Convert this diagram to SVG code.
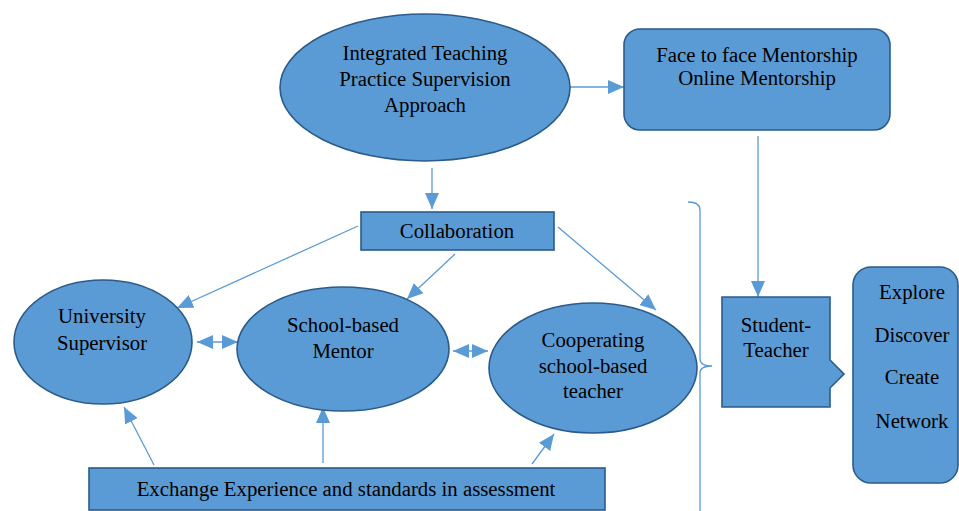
<svg xmlns="http://www.w3.org/2000/svg" width="959" height="511" viewBox="0 0 959 511">
<style>
.node{fill:#5B9BD5;stroke:#2B5B8A;stroke-width:1.6}
.t{font-family:"Liberation Serif","Times New Roman",serif;font-size:20.8px;fill:#000;text-anchor:middle}
.c{stroke:#5B9BD5;stroke-width:1.3;fill:none}
</style>
<defs>
<marker id="ah" markerUnits="userSpaceOnUse" markerWidth="16" markerHeight="16" viewBox="0 0 16 16" refX="16" refY="8" orient="auto-start-reverse">
<path d="M0,1 L16,8 L0,15 Z" fill="#5B9BD5"/>
</marker>
</defs>
<rect width="959" height="511" fill="#fff"/>
<g id="connectors">
<line class="c" x1="570" y1="87" x2="624" y2="87" marker-end="url(#ah)"/>
<line class="c" x1="758" y1="136" x2="758" y2="297" marker-end="url(#ah)"/>
<line class="c" x1="432" y1="168" x2="432" y2="209" marker-end="url(#ah)"/>
<line class="c" x1="358" y1="226" x2="177" y2="308" marker-end="url(#ah)"/>
<line class="c" x1="455" y1="254" x2="407" y2="299" marker-end="url(#ah)"/>
<line class="c" x1="558" y1="227" x2="656" y2="310" marker-end="url(#ah)"/>
<line class="c" x1="197" y1="342" x2="238" y2="342" marker-start="url(#ah)" marker-end="url(#ah)"/>
<line class="c" x1="453" y1="351" x2="488" y2="351" marker-start="url(#ah)" marker-end="url(#ah)"/>
<line class="c" x1="154" y1="465" x2="124" y2="407" marker-end="url(#ah)"/>
<line class="c" x1="323" y1="463" x2="323" y2="407" marker-end="url(#ah)"/>
<line class="c" x1="532" y1="464" x2="554" y2="434" marker-end="url(#ah)"/>
<path class="c" d="M688,202 Q700,202 700,210 V359 Q700,366 712,366 Q700,366 700,373 V511"/>
</g>
<g id="integrated">
<ellipse class="node" cx="425" cy="87.5" rx="145" ry="73.5"/>
<text class="t" x="425" y="60">Integrated Teaching</text>
<text class="t" x="425" y="86">Practice Supervision</text>
<text class="t" x="425" y="112">Approach</text>
</g>
<g id="mentorship">
<rect class="node" x="624" y="29" width="266" height="101" rx="16"/>
<text class="t" x="757" y="62">Face to face Mentorship</text>
<text class="t" x="757" y="85">Online Mentorship</text>
</g>
<g id="collaboration">
<rect class="node" x="361" y="212" width="193" height="38"/>
<text class="t" x="457" y="238">Collaboration</text>
</g>
<g id="university">
<ellipse class="node" cx="103" cy="342" rx="89" ry="62"/>
<text class="t" x="102" y="323">University</text>
<text class="t" x="102" y="350">Supervisor</text>
</g>
<g id="mentor">
<ellipse class="node" cx="343" cy="349" rx="106" ry="62"/>
<text class="t" x="343" y="332">School-based</text>
<text class="t" x="343" y="358">Mentor</text>
</g>
<g id="cooperating">
<ellipse class="node" cx="593" cy="368" rx="104" ry="65"/>
<text class="t" x="593" y="347">Cooperating</text>
<text class="t" x="593" y="373">school-based</text>
<text class="t" x="593" y="398">teacher</text>
</g>
<g id="exchange">
<rect class="node" x="89" y="468" width="516" height="42"/>
<text class="t" x="346" y="496">Exchange Experience and standards in assessment</text>
</g>
<g id="student">
<path class="node" d="M722,297 H830 V360 L844,374 L830,388 V407 H722 Z"/>
<text class="t" x="776" y="332">Student-</text>
<text class="t" x="776" y="357">Teacher</text>
</g>
<g id="explore">
<rect class="node" x="853" y="267" width="105" height="216" rx="18"/>
<text class="t" x="912" y="299">Explore</text>
<text class="t" x="912" y="342">Discover</text>
<text class="t" x="912" y="384">Create</text>
<text class="t" x="912" y="428">Network</text>
</g>
</svg>
